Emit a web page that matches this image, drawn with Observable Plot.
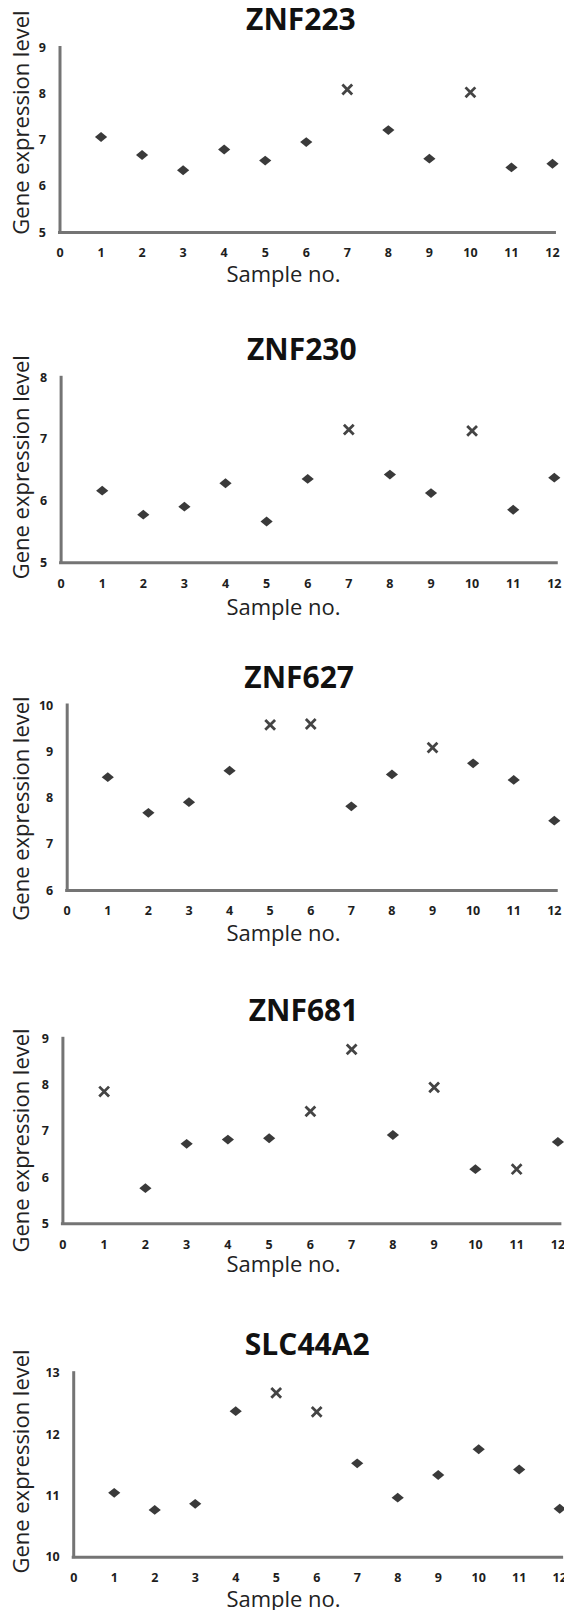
<!DOCTYPE html>
<html><head><meta charset="utf-8">
<script src="https://cdn.jsdelivr.net/npm/d3@7"></script>
<script src="https://cdn.jsdelivr.net/npm/@observablehq/plot@0.6"></script>
<style>
html,body{margin:0;padding:0;background:#fff;}
#root{position:relative;width:564px;height:1610px;overflow:hidden;font-family:"Open Sans",sans-serif;}
.panel{position:absolute;left:0;}
</style></head><body><div id="root"></div>
<script>
// ---- data ----
const samples = [1,2,3,4,5,6,7,8,9,10,11,12];
const xTicks = [0,1,2,3,4,5,6,7,8,9,10,11,12];
const genes = ["ZNF223","ZNF230","ZNF627","ZNF681","SLC44A2"];

const znf223  = [7.07, 6.68, 6.35, 6.80, 6.56, 6.96, 8.10, 7.22, 6.60, 8.04, 6.41, 6.49];
const znf230  = [6.17, 5.78, 5.91, 6.29, 5.67, 6.36, 7.16, 6.43, 6.13, 7.14, 5.86, 6.38];
const znf627  = [8.45, 7.68, 7.91, 8.59, 9.58, 9.60, 7.82, 8.51, 9.09, 8.75, 8.39, 7.51];
const znf681  = [7.86, 5.77, 6.73, 6.82, 6.85, 7.43, 8.77, 6.92, 7.95, 6.18, 6.18, 6.77];
const slc44a2 = [11.05, 10.77, 10.87, 12.38, 12.68, 12.37, 11.53, 10.97, 11.34, 11.76, 11.43, 10.79];

// samples drawn with an "x" marker
const out223  = [7, 10];
const out230  = [7, 10];
const out627  = [5, 6, 9];
const out681  = [1, 6, 7, 9, 11];
const outSlc  = [5, 6];

// y tick labels
const yTicks223 = [5,6,7,8,9];
const yTicks230 = [5,6,7,8];
const yTicks627 = [6,7,8,9,10];
const yTicks681 = [5,6,7,8,9];
const yTicksSlc = [10,11,12,13];

const xLabel = "Sample no.";
const yLabel = "Gene expression level";

const series = [znf223, znf230, znf627, znf681, slc44a2];
const outliers = [out223, out230, out627, out681, outSlc];
const yTicksAll = [yTicks223, yTicks230, yTicks627, yTicks681, yTicksSlc];

// ---- layout (pixel geometry of each panel) ----
const layout = [
  {top:47.5,  bottom:232,    left:59.5, x12:552,   titleX:300.4, ylabY:122,   xlabOff:49.7},
  {top:377.3, bottom:562.3,  left:60.6, x12:553.8, titleX:301.3, ylabY:466.7, xlabOff:52.0},
  {top:705,   bottom:890,    left:66.7, x12:553.8, titleX:298.6, ylabY:808,   xlabOff:50.0},
  {top:1038.3,bottom:1223.3, left:62.4, x12:557.4, titleX:303,   ylabY:1140,  xlabOff:48.3},
  {top:1372.7,bottom:1556.7, left:73.2, x12:559.2, titleX:306.7, ylabY:1461,  xlabOff:50.0}
];

const diamondSym = {draw(ctx){ ctx.moveTo(0,-4.9); ctx.lineTo(6.1,0); ctx.lineTo(0,4.9); ctx.lineTo(-6.1,0); ctx.closePath(); }};
const crossSym = {draw(ctx){ const a=4.9; ctx.moveTo(-a,-a); ctx.lineTo(a,a); ctx.moveTo(-a,a); ctx.lineTo(a,-a); }};

const root = document.getElementById("root");

genes.forEach((gene, i) => {
  const L = layout[i];
  const svgTop = Math.floor(L.top - 48);
  const mt = L.top - svgTop;
  const mb = 64;
  const plotH = L.bottom - L.top;
  const h = mt + plotH + mb;
  const vals = series[i];
  const outs = outliers[i];
  const yt = yTicksAll[i];
  const data = samples.map((s, j) => ({sample: s, value: vals[j], outlier: outs.includes(s)}));
  const y0 = yt[0], y1 = yt[yt.length - 1];
  const axisColor = "#747474";

  const plot = Plot.plot({
    width: 564, height: h,
    marginTop: mt, marginBottom: mb, marginLeft: L.left, marginRight: 564 - L.x12,
    x: {domain: [0, 12]},
    y: {domain: [y0, y1]},
    style: {fontFamily: "'Open Sans', sans-serif", background: "transparent", overflow: "visible"},
    marks: [
      Plot.axisX(xTicks, {tickSize: 0, tickPadding: 16, tickFormat: d => String(d), fontSize: 12.5, fontWeight: "bold", fill: "#1e1e1e", label: null}),
      Plot.axisY(yt, {tickSize: 0, tickPadding: 14, tickFormat: d => String(d), fontSize: 12.5, fontWeight: "bold", fill: "#1e1e1e", label: null}),
      Plot.ruleX([0], {y1: y0, y2: y1, stroke: axisColor, strokeWidth: 3, strokeLinecap: "square"}),
      Plot.ruleY([y0], {x1: 0, x2: 12.06, stroke: axisColor, strokeWidth: 3, strokeLinecap: "square"}),
      Plot.dot(data.filter(d => !d.outlier), {x: "sample", y: "value", symbol: diamondSym, r: 5, fill: "#3a3a3a", stroke: "none"}),
      Plot.dot(data.filter(d => d.outlier), {x: "sample", y: "value", symbol: crossSym, r: 5, fill: "none", stroke: "#444", strokeWidth: 2.8}),
      Plot.text([gene], {text: d => d, frameAnchor: "top-left", lineAnchor: "middle", dx: L.titleX - L.left, dy: -18 - 0.32 * 30,
        fontSize: 30, fontWeight: "bold", fill: "#111", textAnchor: "middle"}),
      Plot.text([xLabel], {text: d => d, frameAnchor: "bottom-left", lineAnchor: "middle", dx: 283 - L.left, dy: L.xlabOff - 0.32 * 22,
        fontSize: 22, fill: "#222", textAnchor: "middle"}),
      Plot.text([yLabel], {text: d => d, frameAnchor: "top-left", lineAnchor: "middle", dx: 21 - L.left, dy: L.ylabY - L.top,
        rotate: -90, fontSize: 22, fill: "#222", textAnchor: "middle"})
    ]
  });
  const div = document.createElement("div");
  div.className = "panel";
  div.style.top = svgTop + "px";
  div.appendChild(plot);
  root.appendChild(div);
});
</script>
</body></html>
